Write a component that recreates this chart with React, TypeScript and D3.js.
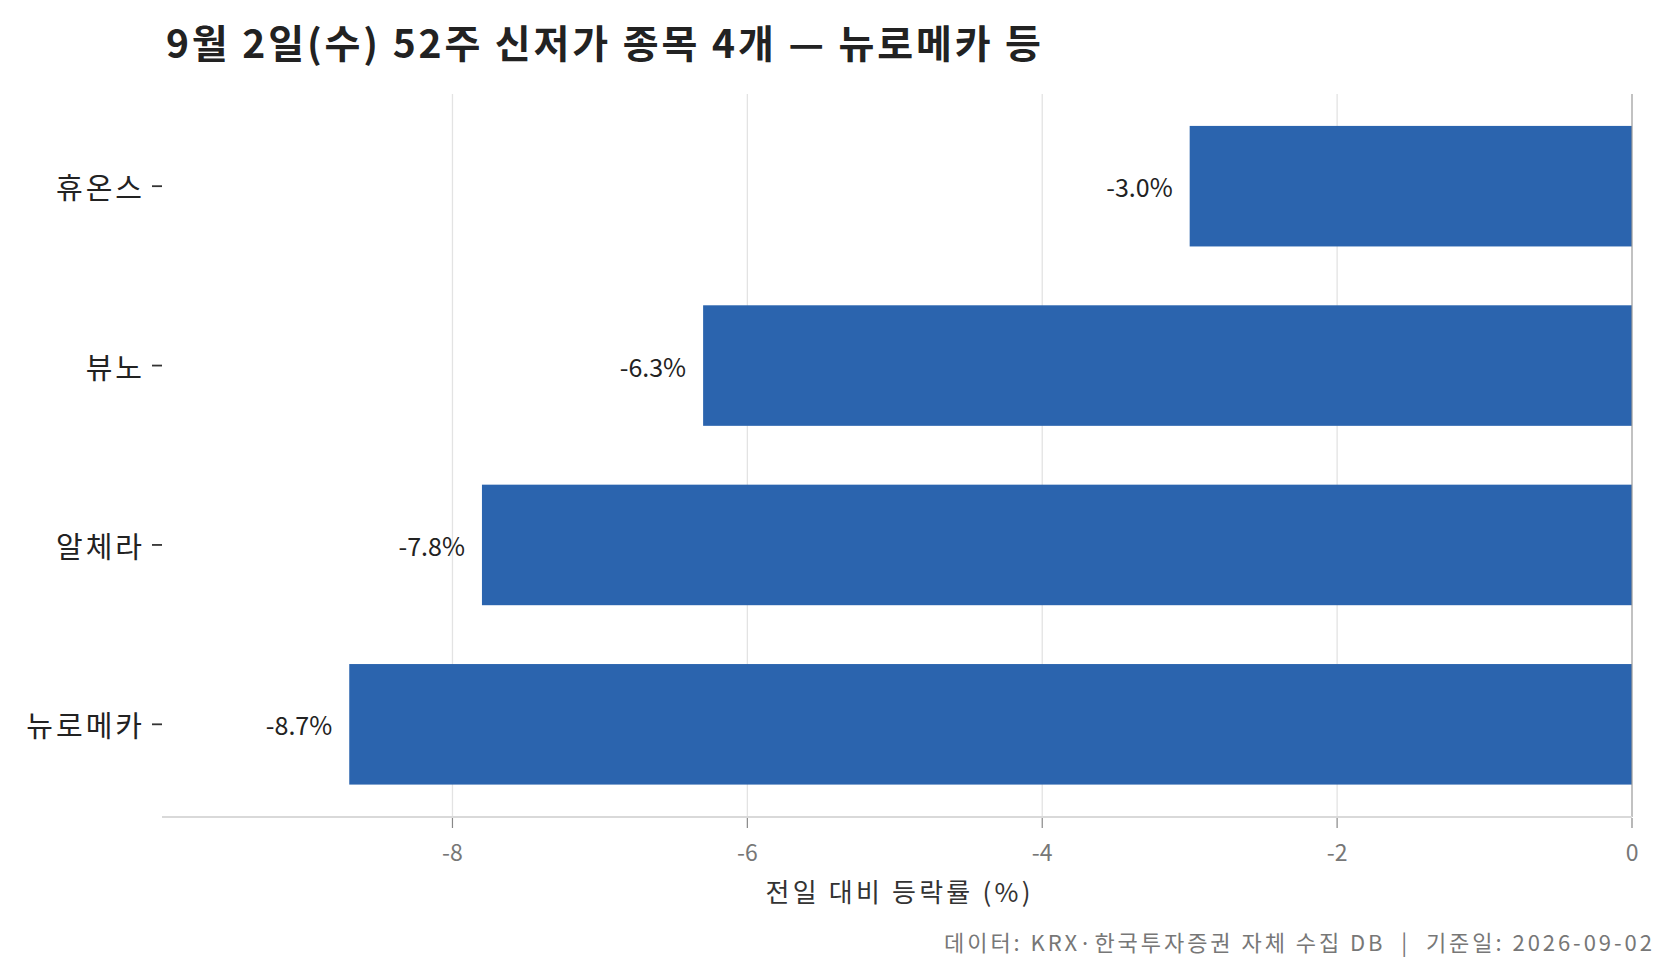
import { useEffect, useRef } from 'react';
import * as d3 from 'd3';

const categories = ['휴온스', '뷰노', '알체라', '뉴로메카'];
const values = [-3.0, -6.3, -7.8, -8.7];
const xTicks = [-8, -6, -4, -2, 0];
const title = '9월 2일(수) 52주 신저가 종목 4개 — 뉴로메카 등';
const xTitle = '전일 대비 등락률 (%)';
const source = '데이터: KRX·한국투자증권 자체 수집 DB  |  기준일: 2026-09-02';

const FONT = '"Noto Sans CJK KR", "Noto Sans", sans-serif';

const App = () => {
  const ref = useRef<SVGSVGElement>(null!);

  useEffect(() => {
    document.body.style.margin = '0';
    const width = 1673;
    const height = 975;
    const left = 162;
    const right = 1632;
    const top = 94;
    const bottom = 817;

    const svg = d3.select(ref.current).attr('width', width).attr('height', height);
    svg.selectAll('*').remove();

    const x = d3.scaleLinear().domain([-9.97, 0]).range([left, right]);
    const y = d3
      .scaleBand<string>()
      .domain(categories)
      .range([96.5, 814])
      .paddingInner(0.328)
      .paddingOuter(0.164);

    // gridlines
    svg
      .append('g')
      .selectAll('line')
      .data(xTicks.filter(t => t !== 0))
      .enter()
      .append('line')
      .attr('x1', d => x(d))
      .attr('x2', d => x(d))
      .attr('y1', top)
      .attr('y2', bottom)
      .attr('stroke', '#e3e3e3')
      .attr('stroke-width', 1.3);

    // bars
    svg
      .append('g')
      .selectAll('rect')
      .data(values)
      .enter()
      .append('rect')
      .attr('x', d => x(d))
      .attr('y', (_, i) => y(categories[i])!)
      .attr('width', d => x(0) - x(d))
      .attr('height', y.bandwidth())
      .attr('fill', '#2b64ae');

    // zero line
    svg
      .append('line')
      .attr('x1', x(0))
      .attr('x2', x(0))
      .attr('y1', top)
      .attr('y2', bottom)
      .attr('stroke', '#999')
      .attr('stroke-width', 1.2);

    // value labels
    svg
      .append('g')
      .selectAll('text')
      .data(values)
      .enter()
      .append('text')
      .attr('x', d => x(d) - 17)
      .attr('y', (_, i) => y(categories[i])! + y.bandwidth() / 2)
      .attr('text-anchor', 'end')
      .attr('dominant-baseline', 'central')
      .attr('font-family', FONT)
      .attr('font-size', 25)
      .attr('fill', '#222')
      .text(d => `${d.toFixed(1)}%`);

    // x axis
    const xAxis = svg.append('g').attr('transform', `translate(0,${bottom})`);
    xAxis
      .append('line')
      .attr('x1', left)
      .attr('x2', right)
      .attr('stroke', '#d9d9d9')
      .attr('stroke-width', 2);
    const xt = xAxis
      .selectAll('g.tick')
      .data(xTicks)
      .enter()
      .append('g')
      .attr('transform', d => `translate(${x(d)},0)`);
    xt.append('line').attr('y1', 1).attr('y2', 11).attr('stroke', '#888').attr('stroke-width', 1.2);
    xt.append('text')
      .attr('y', 34)
      .attr('text-anchor', 'middle')
      .attr('dominant-baseline', 'central')
      .attr('font-family', FONT)
      .attr('font-size', 23)
      .attr('fill', '#777')
      .text(d => (d < 0 ? `-${Math.abs(d)}` : `${d}`));

    svg
      .append('text')
      .attr('x', 898)
      .attr('y', 890)
      .attr('text-anchor', 'middle')
      .attr('dominant-baseline', 'central')
      .attr('font-family', FONT)
      .attr('font-size', 26)
      .attr('fill', '#333')
      .attr('textLength', 265)
      .attr('lengthAdjust', 'spacing')
      .text(xTitle);

    // y axis labels
    const yt = svg
      .append('g')
      .selectAll('g')
      .data(categories)
      .enter()
      .append('g')
      .attr('transform', d => `translate(${left},${y(d)! + y.bandwidth() / 2})`);
    yt.append('line').attr('x1', -10).attr('x2', 0).attr('stroke', '#333').attr('stroke-width', 1.8);
    yt.append('text')
      .attr('x', -17)
      .attr('text-anchor', 'end')
      .attr('dominant-baseline', 'central')
      .attr('font-family', FONT)
      .attr('font-size', 29)
      .attr('letter-spacing', 3)
      .attr('fill', '#222')
      .text(d => d);

    // title
    svg
      .append('text')
      .attr('x', 166)
      .attr('y', 41)
      .attr('dominant-baseline', 'central')
      .attr('font-family', FONT)
      .attr('font-weight', 'bold')
      .attr('font-size', 39)
      .attr('fill', '#222')
      .attr('textLength', 875)
      .attr('lengthAdjust', 'spacing')
      .text(title);

    // source
    svg
      .append('text')
      .attr('x', 1652)
      .attr('y', 941)
      .attr('text-anchor', 'end')
      .attr('dominant-baseline', 'central')
      .attr('font-family', FONT)
      .attr('font-size', 22)
      .attr('fill', '#777')
      .attr('textLength', 708)
      .attr('lengthAdjust', 'spacing')
      .style('white-space', 'pre')
      .text(source);
  }, []);

  return <svg ref={ref} style={{ display: 'block' }}></svg>;
};

export default App;
